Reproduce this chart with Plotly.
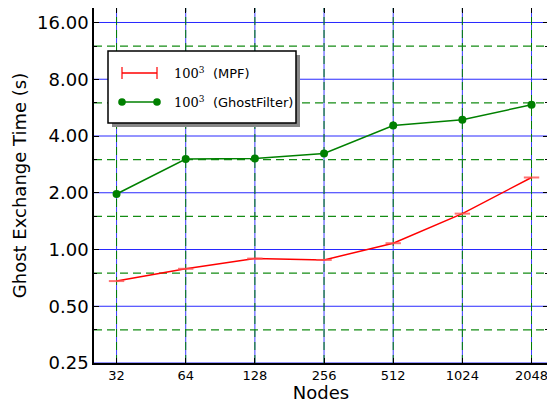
import plotly.graph_objects as go

nodes = [32, 64, 128, 256, 512, 1024, 2048]
node_labels = ["32", "64", "128", "256", "512", "1024", "2048"]
mpf_times = [0.68, 0.79, 0.895, 0.88, 1.08, 1.55, 2.41]
ghost_times = [1.97, 3.02, 3.04, 3.23, 4.55, 4.88, 5.86]
y_major = [0.25, 0.5, 1.0, 2.0, 4.0, 8.0, 16.0]
y_major_labels = ["0.25", "0.50", "1.00", "2.00", "4.00", "8.00", "16.00"]
y_minor = [0.375, 0.75, 1.5, 3.0, 6.0, 12.0]

# page is drawn with an 8px body margin, compensate
OFF = 8
PAGE_W, PAGE_H = 555, 403
W, H = PAGE_W - OFF, PAGE_H - OFF
# plot area in page pixels
PX0, PX1, PY0, PY1 = 94, 548, 8, 363
L, R, T, B = PX0 - OFF, PAGE_W - PX1, PY0 - OFF, PAGE_H - PY1
pw, ph = PX1 - PX0, PY1 - PY0

def px(x):
    return (x - PX0) / pw

def py(y):
    return (PY1 - y) / ph

fig = go.Figure()
fig.add_trace(go.Scatter(
    x=nodes, y=mpf_times, mode="lines+markers",
    line=dict(color="red", width=1.5),
    marker=dict(symbol="line-ew", size=11, line=dict(color="rgba(255,80,80,0.8)", width=2)),
    showlegend=False))
fig.add_trace(go.Scatter(
    x=nodes, y=ghost_times, mode="lines+markers",
    line=dict(color="green", width=1.5),
    marker=dict(symbol="circle", size=8, color="green"),
    showlegend=False))

DASH = "8px,5px"
shapes = []
for yv in y_major:
    shapes.append(dict(type="line", xref="paper", yref="y", x0=0, x1=1, y0=yv, y1=yv,
                       line=dict(color="rgb(40,40,255)", width=1), layer="below"))
for n in nodes:
    shapes.append(dict(type="line", xref="x", yref="paper", x0=n, x1=n, y0=0, y1=1,
                       line=dict(color="rgb(60,60,255)", width=1), layer="below"))
for n in nodes:
    shapes.append(dict(type="line", xref="x", yref="paper", x0=n, x1=n, y0=0, y1=1,
                       line=dict(color="green", width=1, dash=DASH), layer="below"))
for yv in y_minor:
    shapes.append(dict(type="line", xref="paper", yref="y", x0=0, x1=1, y0=yv, y1=yv,
                       line=dict(color="rgb(20,140,20)", width=1.2, dash=DASH), layer="below"))

# legend
lx0, lx1, ly0, ly1 = 108, 296, 51, 123
shapes.append(dict(type="rect", xref="paper", yref="paper",
                   x0=px(lx0 + 4), x1=px(lx1 + 4), y0=py(ly0 + 4), y1=py(ly1 + 4),
                   fillcolor="#888888", line=dict(width=0)))
shapes.append(dict(type="rect", xref="paper", yref="paper",
                   x0=px(lx0), x1=px(lx1), y0=py(ly0), y1=py(ly1),
                   fillcolor="white", line=dict(color="black", width=1.5)))
sx0, sx1 = 122, 157
ry, gy = 73, 102
shapes.append(dict(type="line", xref="paper", yref="paper", x0=px(sx0), x1=px(sx1),
                   y0=py(ry), y1=py(ry), line=dict(color="red", width=1.5)))
for sx in (sx0, sx1):
    shapes.append(dict(type="line", xref="paper", yref="paper", x0=px(sx), x1=px(sx),
                       y0=py(ry - 6), y1=py(ry + 6), line=dict(color="red", width=1.2)))
shapes.append(dict(type="line", xref="paper", yref="paper", x0=px(sx0), x1=px(sx1),
                   y0=py(gy), y1=py(gy), line=dict(color="green", width=1.5)))
for sx in (sx0, sx1):
    shapes.append(dict(type="circle", xref="paper", yref="paper",
                       x0=px(sx - 3.8), x1=px(sx + 3.8), y0=py(gy - 3.8), y1=py(gy + 3.8),
                       fillcolor="green", line=dict(color="green", width=0)))

annotations = [
    dict(xref="paper", yref="paper", x=px(172), y=py(ry), xanchor="left", yanchor="middle",
         showarrow=False, font=dict(family="DejaVu Sans", size=13, color="black"),
         text="<span style='font-family:DejaVu Serif'>100<sup>3</sup></span>  (MPF)"),
    dict(xref="paper", yref="paper", x=px(172), y=py(gy), xanchor="left", yanchor="middle",
         showarrow=False, font=dict(family="DejaVu Sans", size=13, color="black"),
         text="<span style='font-family:DejaVu Serif'>100<sup>3</sup></span>  (GhostFilter)"),
]

fig.update_layout(
    width=W, height=H,
    margin=dict(l=L, r=R, t=T, b=B, pad=0, autoexpand=False),
    paper_bgcolor="white", plot_bgcolor="white",
    font=dict(family="DejaVu Sans", color="black"),
    shapes=shapes, annotations=annotations,
    showlegend=False,
)
fig.update_xaxes(
    type="log", range=[1.407, 3.383], automargin=False,
    tickvals=nodes, ticktext=node_labels, tickfont=dict(size=13),
    ticks="inside", ticklen=5, tickcolor="black",
    showgrid=False,
    showline=True, linecolor="black", linewidth=1.5, mirror="ticks",
    zeroline=False,
    title=dict(text="Nodes", font=dict(size=18), standoff=2),
)
fig.update_yaxes(
    type="log", range=[-0.60206, 1.281], automargin=False,
    tickvals=y_major, ticktext=y_major_labels, tickfont=dict(size=18),
    ticks="inside", ticklen=5, tickcolor="black",
    showgrid=False,
    minor=dict(tickvals=y_minor, ticks="inside", ticklen=3, tickcolor="black", showgrid=False),
    showline=True, linecolor="black", linewidth=1.5, mirror="ticks",
    zeroline=False,
    title=dict(text="Ghost Exchange Time (s)", font=dict(size=18), standoff=6),
)

fig.write_html("out.html")
